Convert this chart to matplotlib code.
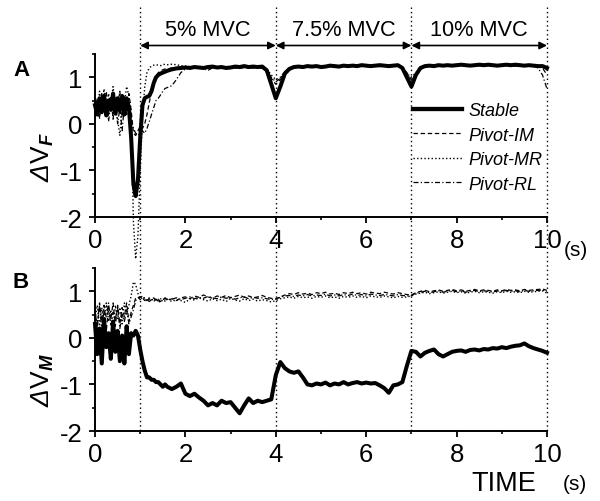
import numpy as np
import matplotlib
matplotlib.use('Agg')
import matplotlib.pyplot as plt
from matplotlib.lines import Line2D
from matplotlib.transforms import blended_transform_factory

plt.rcParams['font.family'] = ['Liberation Sans', 'DejaVu Sans']
plt.rcParams['axes.unicode_minus'] = False
plt.rcParams['mathtext.fontset'] = 'custom'
plt.rcParams['mathtext.rm'] = 'Liberation Sans'
plt.rcParams['mathtext.it'] = 'Liberation Sans:italic'
plt.rcParams['mathtext.bf'] = 'Liberation Sans:italic:bold'
plt.rcParams['mathtext.cal'] = 'Liberation Sans:italic'

# ---- time grid (s) ----
T_EARLY = np.round(np.arange(0, 1.601, 0.05), 2)      # 0.00 .. 1.60
T_LATE = np.round(np.arange(1.7, 10.001, 0.1), 2)     # 1.7 .. 10.0
TIME = np.concatenate([T_EARLY, T_LATE])

# ---- panel A : delta V_F ----
A_STABLE = [0.40, 0.20, 0.55, 0.25, 0.60, 0.18, 0.50, 0.30, 0.65, 0.22,
            0.55, 0.28, 0.60, 0.20, 0.55, 0.35, -0.30, -1.30, -1.55, -1.20,
            -0.30, 0.40, 0.55, 0.58, 0.60, 0.70, 0.88, 1.00, 1.05, 1.08,
            1.10, 1.12, 1.14,
            1.17, 1.19, 1.20, 1.21, 1.20, 1.22, 1.21, 1.20, 1.22, 1.23,
            1.21, 1.22, 1.20, 1.21, 1.23, 1.22, 1.24, 1.22, 1.23, 1.22,
            1.23, 1.15, 0.85, 0.55, 0.80, 1.08, 1.18, 1.22, 1.23, 1.22,
            1.24, 1.23, 1.24, 1.22, 1.23, 1.25, 1.24, 1.23, 1.25, 1.24,
            1.25, 1.24, 1.26, 1.25, 1.24, 1.25, 1.26, 1.25, 1.24, 1.25,
            1.26, 1.20, 1.00, 0.80, 1.05, 1.20, 1.24, 1.25, 1.24, 1.26,
            1.25, 1.26, 1.25, 1.26, 1.27, 1.26, 1.25, 1.26, 1.27, 1.26,
            1.27, 1.26, 1.25, 1.26, 1.27, 1.26, 1.27, 1.26, 1.25, 1.26,
            1.25, 1.24, 1.24, 1.20]
A_PIVOT_IM = [0.30, 0.55, 0.15, 0.65, 0.35, 0.70, 0.20, 0.60, 0.10, 0.55,
              0.40, 0.70, 0.15, 0.60, 0.35, 0.65, 0.30, -0.20, -0.25, -0.15,
              -0.05, -0.10, 0.00, 0.20, 0.45, 0.70, 0.90, 1.02, 1.10, 1.14,
              1.16, 1.18, 1.18,
              1.20, 1.21, 1.22, 1.20, 1.23, 1.21, 1.22, 1.20, 1.21, 1.22,
              1.20, 1.19, 1.21, 1.22, 1.20, 1.21, 1.22, 1.20, 1.21, 1.22,
              1.20, 1.12, 0.98, 0.85, 0.95, 1.10, 1.18, 1.22, 1.24, 1.23,
              1.24, 1.25, 1.23, 1.24, 1.25, 1.24, 1.23, 1.25, 1.24, 1.26,
              1.25, 1.24, 1.25, 1.26, 1.24, 1.25, 1.24, 1.26, 1.25, 1.24,
              1.25, 1.22, 1.10, 0.95, 1.08, 1.18, 1.23, 1.25, 1.26, 1.25,
              1.26, 1.27, 1.25, 1.26, 1.27, 1.25, 1.26, 1.27, 1.26, 1.25,
              1.26, 1.27, 1.26, 1.25, 1.26, 1.27, 1.26, 1.25, 1.26, 1.25,
              1.24, 1.23, 1.20, 1.05]
A_PIVOT_MR = [0.50, 0.25, 0.70, 0.35, 0.75, 0.20, 0.65, 0.40, 0.80, 0.30,
              0.10, -0.25, 0.30, 0.45, 0.80, 0.60, 0.20, -2.10, -2.90, -2.40,
              -1.00, 0.10, 0.80, 1.10, 1.20, 1.24, 1.26, 1.27, 1.26, 1.25,
              1.27, 1.28, 1.27,
              1.28, 1.27, 1.25, 1.24, 1.23, 1.22, 1.21, 1.22, 1.20, 1.21,
              1.22, 1.21, 1.20, 1.22, 1.21, 1.20, 1.21, 1.22, 1.21, 1.20,
              1.21, 1.18, 1.05, 0.95, 1.00, 1.12, 1.20, 1.23, 1.24, 1.22,
              1.23, 1.24, 1.22, 1.23, 1.24, 1.23, 1.22, 1.24, 1.23, 1.25,
              1.24, 1.23, 1.24, 1.25, 1.23, 1.24, 1.25, 1.24, 1.23, 1.24,
              1.25, 1.20, 1.08, 1.00, 1.10, 1.20, 1.24, 1.25, 1.24, 1.26,
              1.25, 1.24, 1.26, 1.25, 1.26, 1.25, 1.24, 1.26, 1.25, 1.26,
              1.25, 1.26, 1.25, 1.26, 1.25, 1.24, 1.25, 1.26, 1.25, 1.24,
              1.25, 1.24, 1.22, 1.15]
A_PIVOT_RL = [0.20, 0.45, 0.10, 0.50, 0.25, 0.55, 0.05, 0.45, 0.20, 0.50,
              0.00, 0.35, -0.15, 0.40, 0.20, 0.45, 0.10, -0.10, -0.20, -0.25,
              -0.20, -0.15, -0.20, -0.10, 0.05, 0.20, 0.35, 0.50, 0.55, 0.62,
              0.70, 0.76, 0.78,
              0.82, 0.95, 1.10, 1.18, 1.20, 1.21, 1.20, 1.18, 1.15, 1.20,
              1.21, 1.20, 1.18, 1.21, 1.20, 1.19, 1.22, 1.21, 1.20, 1.21,
              1.20, 1.14, 1.00, 0.90, 0.98, 1.12, 1.20, 1.23, 1.22, 1.24,
              1.23, 1.22, 1.24, 1.23, 1.22, 1.24, 1.23, 1.25, 1.24, 1.23,
              1.24, 1.25, 1.24, 1.23, 1.25, 1.24, 1.23, 1.25, 1.24, 1.25,
              1.24, 1.21, 1.06, 0.92, 1.05, 1.17, 1.23, 1.24, 1.25, 1.24,
              1.25, 1.26, 1.24, 1.25, 1.26, 1.25, 1.24, 1.25, 1.26, 1.25,
              1.26, 1.25, 1.24, 1.25, 1.26, 1.25, 1.24, 1.25, 1.26, 1.25,
              1.24, 1.20, 1.05, 0.75]

# ---- panel B : delta V_M ----
B_STABLE = [0.30, -0.35, 0.20, -0.55, 0.40, -0.20, 0.10, -0.45, 0.35, -0.30,
            0.15, -0.50, 0.05, -0.55, 0.25, -0.35, 0.10, 0.05, 0.15, 0.05,
            -0.25, -0.50, -0.70, -0.85, -0.85, -0.90, -0.90, -0.95, -0.95, -1.00,
            -1.05, -1.00, -1.05,
            -1.10, -1.05, -0.98, -1.20, -1.25, -1.20, -1.28, -1.35, -1.45, -1.40,
            -1.45, -1.35, -1.40, -1.38, -1.50, -1.62, -1.45, -1.30, -1.40, -1.35,
            -1.38, -1.35, -1.32, -0.80, -0.52, -0.65, -0.72, -0.75, -0.72, -0.85,
            -1.00, -1.02, -0.98, -1.00, -0.96, -1.02, -0.98, -1.00, -0.95, -1.00,
            -0.97, -0.95, -0.98, -0.96, -0.98, -0.97, -1.02, -1.08, -1.18, -1.02,
            -1.00, -0.95, -0.60, -0.28, -0.30, -0.40, -0.32, -0.28, -0.25, -0.35,
            -0.40, -0.35, -0.30, -0.28, -0.27, -0.30, -0.26, -0.25, -0.27, -0.24,
            -0.25, -0.22, -0.23, -0.20, -0.22, -0.19, -0.17, -0.16, -0.12, -0.18,
            -0.22, -0.25, -0.28, -0.32]
B_PIVOT_IM = [0.60, 0.20, 0.75, 0.35, 0.70, 0.15, 0.65, 0.40, 0.75, 0.25,
              0.70, 0.30, 0.65, 0.45, 0.75, 0.35, 0.55, 0.70, 0.85, 0.88,
              0.82, 0.86, 0.80, 0.84, 0.78, 0.82, 0.86, 0.80, 0.83, 0.78,
              0.82, 0.85, 0.80,
              0.84, 0.80, 0.86, 0.88, 0.84, 0.90, 0.87, 0.92, 0.88, 0.85,
              0.90, 0.87, 0.91, 0.86, 0.89, 0.92, 0.87, 0.90, 0.86, 0.88,
              0.91, 0.87, 0.85, 0.83, 0.88, 0.92, 0.95, 0.93, 0.97, 0.94,
              0.96, 0.93, 0.97, 0.95, 0.98, 0.94, 0.96, 0.93, 0.97, 0.95,
              0.98, 0.95, 0.97, 0.94, 0.98, 0.96, 0.95, 0.98, 0.96, 0.94,
              0.97, 0.95, 0.93, 0.92, 0.97, 1.00, 1.02, 0.99, 1.01, 1.03,
              1.00, 1.02, 1.04, 1.01, 1.03, 1.00, 1.02, 1.04, 1.01, 1.03,
              1.02, 1.00, 1.03, 1.01, 1.04, 1.02, 1.03, 1.01, 1.04, 1.02,
              1.03, 1.04, 1.05, 1.02]
B_PIVOT_MR = [0.40, 0.70, 0.25, 0.65, 0.30, 0.75, 0.35, 0.60, 0.20, 0.70,
              0.40, 0.65, 0.30, 0.75, 0.50, 0.70, 0.90, 1.20, 1.15, 0.95,
              0.85, 0.90, 0.84, 0.80, 0.86, 0.82, 0.78, 0.84, 0.80, 0.76,
              0.82, 0.79, 0.83,
              0.78, 0.82, 0.80, 0.76, 0.84, 0.81, 0.86, 0.82, 0.79, 0.84,
              0.80, 0.83, 0.78, 0.85, 0.81, 0.79, 0.84, 0.80, 0.83, 0.79,
              0.82, 0.80, 0.77, 0.80, 0.84, 0.86, 0.88, 0.85, 0.89, 0.86,
              0.88, 0.85, 0.89, 0.87, 0.90, 0.86, 0.88, 0.85, 0.89, 0.87,
              0.90, 0.87, 0.89, 0.86, 0.90, 0.88, 0.87, 0.90, 0.88, 0.86,
              0.89, 0.87, 0.88, 0.90, 0.94, 0.96, 0.98, 0.95, 0.97, 0.99,
              0.96, 0.98, 1.00, 0.97, 0.99, 0.96, 0.98, 1.00, 0.97, 0.99,
              0.98, 0.96, 0.99, 0.97, 1.00, 0.98, 0.99, 0.97, 1.00, 0.98,
              0.99, 1.00, 1.01, 0.96]
B_PIVOT_RL = [0.55, 0.30, 0.70, 0.20, 0.60, 0.45, 0.75, 0.25, 0.55, 0.40,
              0.65, 0.20, 0.50, 0.35, 0.60, 0.30, 0.45, 0.60, 0.80, 0.85,
              0.88, 0.83, 0.86, 0.81, 0.84, 0.80, 0.85, 0.82, 0.79, 0.84,
              0.81, 0.86, 0.82,
              0.83, 0.86, 0.82, 0.85, 0.88, 0.84, 0.87, 0.85, 0.89, 0.86,
              0.84, 0.88, 0.85, 0.87, 0.83, 0.86, 0.88, 0.84, 0.87, 0.85,
              0.86, 0.84, 0.82, 0.84, 0.87, 0.90, 0.91, 0.89, 0.92, 0.90,
              0.93, 0.90, 0.92, 0.91, 0.94, 0.90, 0.92, 0.90, 0.93, 0.91,
              0.94, 0.91, 0.93, 0.90, 0.94, 0.92, 0.91, 0.93, 0.92, 0.90,
              0.93, 0.91, 0.90, 0.91, 0.96, 0.98, 1.00, 0.97, 0.99, 1.01,
              0.98, 1.00, 1.02, 0.99, 1.01, 0.98, 1.00, 1.02, 0.99, 1.01,
              1.00, 0.98, 1.01, 0.99, 1.02, 1.00, 1.01, 0.99, 1.02, 1.00,
              1.01, 1.02, 1.03, 0.99]

SERIES_NAMES = ['Stable', 'Pivot-IM', 'Pivot-MR', 'Pivot-RL']
PHASE_BOUNDS = [1, 4, 7, 10]
PHASE_LABELS = ['5% MVC', '7.5% MVC', '10% MVC']
X_TICKS = [0, 2, 4, 6, 8, 10]
Y_TICKS = [-2, -1, 0, 1]

STYLES = {
    'Stable': dict(color='black', lw=2.9, ls='-'),
    'Pivot-IM': dict(color='black', lw=0.9, ls=(0, (3.5, 2.2))),
    'Pivot-MR': dict(color='black', lw=1.0, ls=(0, (1, 1.6))),
    'Pivot-RL': dict(color='black', lw=0.9, ls=(0, (4, 1.8, 1, 1.8))),
}

W, H = 600, 502
fig = plt.figure(figsize=(W / 100, H / 100), dpi=100)
axA = fig.add_axes([95 / W, 1 - 218 / H, 452 / W, 163 / H])
axB = fig.add_axes([95 / W, 1 - 432 / H, 452 / W, 163 / H])

dataA = dict(zip(SERIES_NAMES, [A_STABLE, A_PIVOT_IM, A_PIVOT_MR, A_PIVOT_RL]))
dataB = dict(zip(SERIES_NAMES, [B_STABLE, B_PIVOT_IM, B_PIVOT_MR, B_PIVOT_RL]))

for ax, data in ((axA, dataA), (axB, dataB)):
    for name in ['Pivot-RL', 'Pivot-MR', 'Pivot-IM', 'Stable']:
        st = STYLES[name]
        ax.plot(TIME, data[name], color=st['color'], lw=st['lw'], ls=st['ls'],
                clip_on=False, zorder=3 if name == 'Stable' else 2)
    ax.set_xlim(0, 10)
    ax.set_ylim(-2, 1.5)
    ax.set_xticks(X_TICKS)
    ax.set_xticks([1, 3, 5, 7, 9], minor=True)
    ax.set_yticks(Y_TICKS)
    ax.set_yticks([-1.5, -0.5, 0.5, 1.5], minor=True)
    for s in ['top', 'right']:
        ax.spines[s].set_visible(False)
    for s in ['left', 'bottom']:
        ax.spines[s].set_linewidth(1.4)
    ax.tick_params(which='major', direction='out', length=4, width=1.3, labelsize=18.5)
    ax.tick_params(axis='x', which='major', pad=4)
    ax.tick_params(axis='y', which='major', pad=5)
    ax.tick_params(which='minor', direction='out', length=2.5, width=1.2)
    ax.patch.set_visible(False)

# vertical dotted phase lines spanning both panels
blend = blended_transform_factory(axA.transData, fig.transFigure)
for xb in PHASE_BOUNDS:
    ln = Line2D([xb, xb], [1 - 8 / H, 1 - 432 / H], transform=blend,
                color='black', lw=1.0, ls=(0, (1, 2.2)), clip_on=False, zorder=1)
    fig.add_artist(ln)

# double arrows + phase labels
y_arrow = 1 - 46.5 / H
y_text = 1 - 30.5 / H
for i, lab in enumerate(PHASE_LABELS):
    x0, x1 = PHASE_BOUNDS[i], PHASE_BOUNDS[i + 1]
    axA.annotate('', xy=(x1, y_arrow), xytext=(x0, y_arrow),
                 xycoords=blend, textcoords=blend,
                 arrowprops=dict(arrowstyle='<|-|>', color='black', lw=1.2,
                                 mutation_scale=11, shrinkA=0, shrinkB=0))
    axA.text((x0 + x1) / 2, y_text, lab, transform=blend, ha='center', va='center',
             fontsize=15.7)

# legend
handles = [Line2D([], [], color='black', lw=STYLES[n]['lw'] + (0.2 if n == 'Stable' else 0),
                  ls=STYLES[n]['ls']) for n in SERIES_NAMES]
axA.legend(handles, SERIES_NAMES, loc='upper left',
           bbox_to_anchor=(413 / W, 1 - 103 / H), bbox_transform=fig.transFigure,
           frameon=False, borderpad=0, borderaxespad=0, handlelength=2.7,
           handletextpad=0.35, labelspacing=0.42,
           prop={'style': 'italic', 'size': 13})

# panel letters and axis labels
fig.text(21 / W, 1 - 71 / H, 'A', fontsize=16, fontweight='bold', ha='center', va='center')
fig.text(21 / W, 1 - 283 / H, 'B', fontsize=16, fontweight='bold', ha='center', va='center')
fig.text(43 / W, 1 - 157 / H, r'$\mathcal{Δ}\mathrm{V}_{\mathbf{F}}$', fontsize=19,
         rotation=90, ha='center', va='center')
fig.text(43 / W, 1 - 380 / H, r'$\mathcal{Δ}\mathrm{V}_{\mathbf{M}}$', fontsize=19,
         rotation=90, ha='center', va='center')
fig.text(576 / W, 1 - 250 / H, '(s)', fontsize=15, ha='center', va='center')
fig.text(504 / W, 1 - 484 / H, 'TIME', fontsize=19.5, ha='center', va='center')
fig.text(575 / W, 1 - 485 / H, '(s)', fontsize=15, ha='center', va='center')

fig.savefig('out.png', dpi=100)
